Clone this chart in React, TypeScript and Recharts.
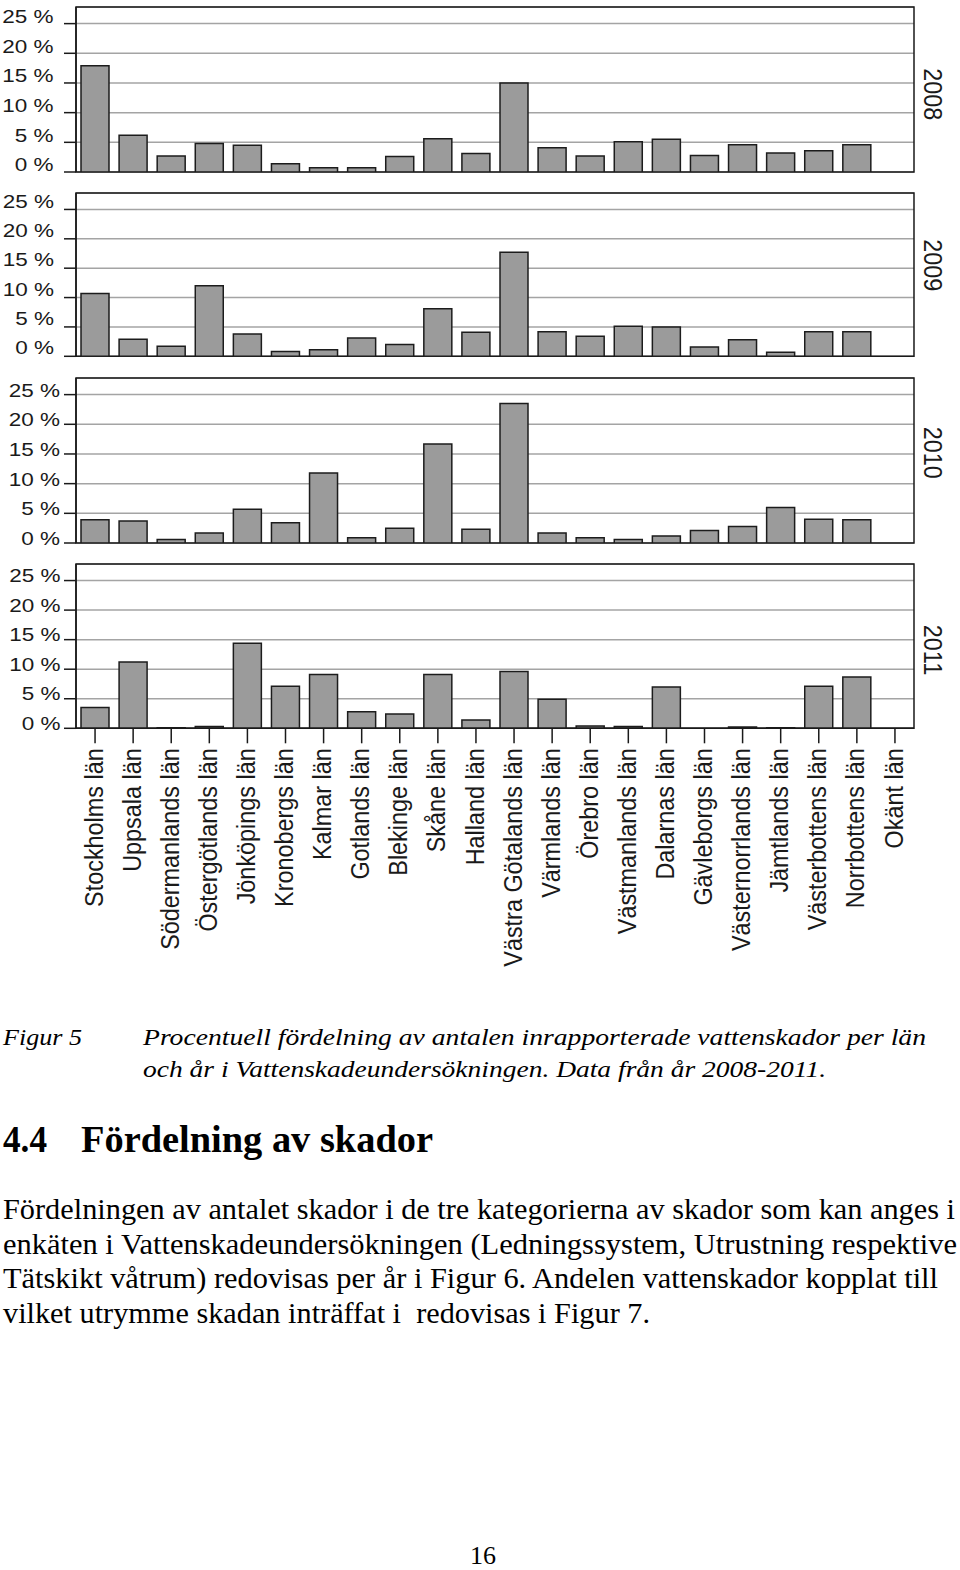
import React from 'react'
import { BarChart, Bar, XAxis, YAxis, CartesianGrid, ReferenceArea } from 'recharts'

// counties (x categories)
const lan = [
  'Stockholms län', 'Uppsala län', 'Södermanlands län', 'Östergötlands län',
  'Jönköpings län', 'Kronobergs län', 'Kalmar län', 'Gotlands län',
  'Blekinge län', 'Skåne län', 'Halland län', 'Västra Götalands län',
  'Värmlands län', 'Örebro län', 'Västmanlands län', 'Dalarnas län',
  'Gävleborgs län', 'Västernorrlands län', 'Jämtlands län', 'Västerbottens län',
  'Norrbottens län', 'Okänt län',
]

// share of reported water damages per county, %
const v2008 = [17.9, 6.2, 2.7, 4.8, 4.5, 1.4, 0.7, 0.7, 2.6, 5.6, 3.1, 15.0, 4.1, 2.7, 5.1, 5.5, 2.8, 4.6, 3.2, 3.6, 4.6, 0]
const v2009 = [10.7, 2.9, 1.7, 12.0, 3.8, 0.8, 1.1, 3.1, 2.0, 8.1, 4.1, 17.7, 4.2, 3.4, 5.1, 5.0, 1.6, 2.8, 0.7, 4.2, 4.2, 0]
const v2010 = [3.9, 3.7, 0.6, 1.7, 5.7, 3.4, 11.8, 0.9, 2.5, 16.7, 2.3, 23.5, 1.7, 0.9, 0.6, 1.2, 2.1, 2.8, 6.0, 4.0, 3.9, 0]
const v2011 = [3.5, 11.2, 0.1, 0.3, 14.4, 7.1, 9.1, 2.8, 2.4, 9.1, 1.4, 9.6, 4.9, 0.4, 0.3, 7.0, 0, 0.2, 0.1, 7.1, 8.7, 0]

const years = ['2008', '2009', '2010', '2011']
const yTicks = [0, 5, 10, 15, 20, 25]
const Y_MAX = 27.8

// panel frame positions on the page (layout)
const frameTop = [6.7, 192.7, 377.7, 564]
const frameBottom = [171.7, 356, 542.7, 728.3]
const labelRight = [53.5, 54, 60, 60.5]
const labelShift = [-7, -8.3, -4.4, -5]
const yearCenter = [94, 265, 452.5, 650]

const SANS = '"Liberation Sans", Arial, sans-serif'
const SERIF = '"Liberation Serif", "Times New Roman", serif'
const INK = '#1a1a1a'
const M_TOP = 4
const X_AXIS_H = 250

const YTick = ({ y, payload, right, shift }: any) => (
  <text
    transform={`translate(${right},${y + shift}) scale(1.25,1)`}
    textAnchor="end" dy="0.36em" fontSize={18} fontFamily={SANS} fill={INK}
  >
    {`${payload.value} %`}
  </text>
)

const XTick = ({ x, y, payload }: any) => (
  <g transform={`translate(${x},${y})`}>
    <text
      transform="rotate(-90) scale(0.9,1)"
      textAnchor="end" dy="0.29em" fontSize={26} fontFamily={SANS} fill={INK}
    >
      {payload.value}
    </text>
  </g>
)

function Panel({ idx, values }: { idx: number; values: number[] }) {
  const data = lan.map((name, i) => ({ name, value: values[i] }))
  const last = idx === 3
  const plotH = frameBottom[idx] - frameTop[idx]
  const bottom = last ? 0 : 10
  const h = M_TOP + plotH + bottom + (last ? X_AXIS_H : 0)
  const top = frameTop[idx] - M_TOP

  return (
    <div style={{ position: 'absolute', left: 0, top }}>
      <BarChart width={960} height={h} data={data} margin={{ top: M_TOP, right: 46, bottom, left: 0 }}>
        <CartesianGrid vertical={false} stroke="#a4a4a4" strokeWidth={1.5} />
        <XAxis
          dataKey="name" hide={!last} interval={0} height={last ? X_AXIS_H : 0}
          tickSize={15} tickMargin={5}
          tickLine={{ stroke: INK, strokeWidth: 1.5 }}
          axisLine={{ stroke: INK, strokeWidth: 1.5 }}
          tick={<XTick />}
        />
        <YAxis
          domain={[0, Y_MAX]} ticks={yTicks} interval={0} allowDataOverflow
          width={76} tickSize={12}
          tickLine={{ stroke: INK, strokeWidth: 1.5 }}
          axisLine={{ stroke: INK, strokeWidth: 1.5 }}
          tick={<YTick right={labelRight[idx]} shift={labelShift[idx]} />}
        />
        <Bar dataKey="value" fill="#9b9b9b" stroke="#1c1c1c" strokeWidth={1.5} barSize={28} isAnimationActive={false} />
        <ReferenceArea y1={0} y2={Y_MAX} fill="none" stroke={INK} strokeWidth={1.5} ifOverflow="visible" />
        <g transform={`translate(924,${yearCenter[idx] - top})`}>
          <text transform="rotate(90) scale(0.9,1)" textAnchor="middle" fontSize={26} fontFamily={SANS} fill={INK}>
            {years[idx]}
          </text>
        </g>
      </BarChart>
    </div>
  )
}

export default function App() {
  const series = [v2008, v2009, v2010, v2011]
  return (
    <div style={{ position: 'absolute', left: 0, top: 0, width: 960, height: 1570, background: '#fff' }}>
      {series.map((s, i) => <Panel key={years[i]} idx={i} values={s} />)}
      <svg width={960} height={1570} style={{ position: 'absolute', left: 0, top: 0, pointerEvents: 'none' }}>
        <g fontFamily={SERIF} fill="#000">
          <text x={3} y={1045} fontSize={24} fontStyle="italic" textLength={79} lengthAdjust="spacingAndGlyphs">Figur 5</text>
          <text x={143} y={1045} fontSize={24} fontStyle="italic" textLength={783} lengthAdjust="spacingAndGlyphs">
            Procentuell fördelning av antalen inrapporterade vattenskador per län
          </text>
          <text x={143} y={1076.5} fontSize={24} fontStyle="italic" textLength={683} lengthAdjust="spacingAndGlyphs">
            och år i Vattenskadeundersökningen. Data från år 2008-2011.
          </text>
          <text x={3} y={1152} fontSize={38} fontWeight="bold" textLength={44} lengthAdjust="spacingAndGlyphs">4.4</text>
          <text x={81} y={1152} fontSize={38} fontWeight="bold" textLength={352} lengthAdjust="spacingAndGlyphs">Fördelning av skador</text>
          <text x={3} y={1219} fontSize={29} textLength={952} lengthAdjust="spacingAndGlyphs">
            Fördelningen av antalet skador i de tre kategorierna av skador som kan anges i
          </text>
          <text x={3} y={1253.5} fontSize={29} textLength={954} lengthAdjust="spacingAndGlyphs">
            enkäten i Vattenskadeundersökningen (Ledningssystem, Utrustning respektive
          </text>
          <text x={3} y={1288} fontSize={29} textLength={935} lengthAdjust="spacingAndGlyphs">
            Tätskikt våtrum) redovisas per år i Figur 6. Andelen vattenskador kopplat till
          </text>
          <text x={3} y={1322.5} fontSize={29} textLength={647} lengthAdjust="spacingAndGlyphs">
            {'vilket utrymme skadan inträffat i \u00a0redovisas i Figur 7.'}
          </text>
          <text x={483} y={1564} fontSize={26} textAnchor="middle">16</text>
        </g>
      </svg>
    </div>
  )
}
